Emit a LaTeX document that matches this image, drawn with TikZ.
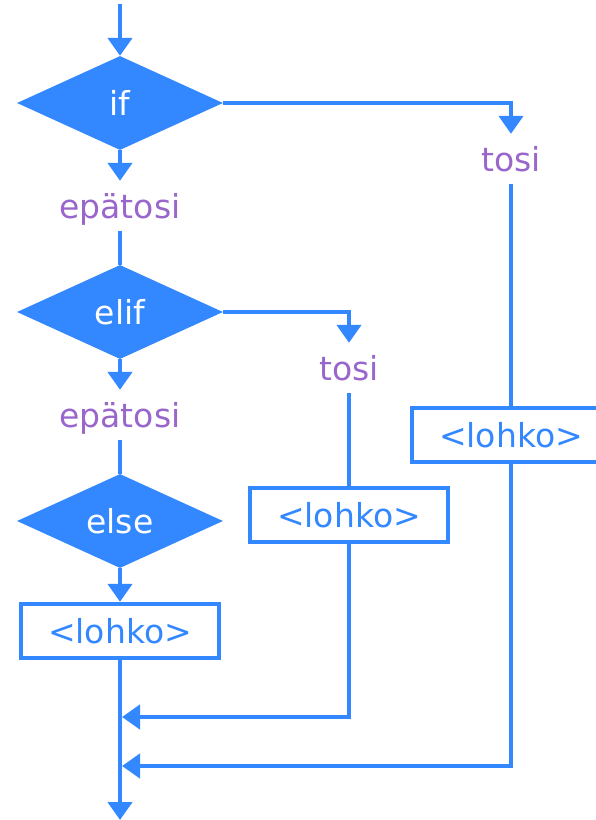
\documentclass[tikz,border=0pt]{standalone}
\usepackage{fontspec}
\setmainfont{DejaVu Sans}
\usepackage{xcolor}
\usepackage{tikz}
\usetikzlibrary{arrows.meta,shapes.geometric}
\definecolor{blueflow}{HTML}{3388FF}
\definecolor{purplelbl}{HTML}{9966CC}
\tikzset{every node/.append style={font=\fontsize{33}{40}\selectfont}}
\tikzset{
  cond/.style={diamond,fill=blueflow,text=white,inner sep=0pt,
    minimum width=206pt,minimum height=94pt},
  blockbox/.style={rectangle,draw=blueflow,line width=4.4pt,fill=white,
    text=blueflow,inner sep=0pt,minimum width=198pt,minimum height=54pt},
  branch/.style={text=purplelbl,inner sep=0pt,text depth=0pt,minimum height=50pt},
  wire/.style={blueflow,line width=4.4pt},
  flow/.style={wire,-{Triangle[length=18pt,width=24pt]}}
}

\begin{document}
\begin{tikzpicture}[x=1pt,y=-1pt]
  \useasboundingbox (0,0) rectangle (595,820);
  \coordinate (start) at (120,4);
  \node[cond] (if) at (120,103) {if};
  \node[branch] (no1) at (120,206) {epätosi};
  \node[cond] (elif) at (120,312) {elif};
  \node[branch] (no2) at (120,415) {epätosi};
  \node[cond] (else) at (120,521) {else};
  \node[blockbox] (blk0) at (120,631) {<lohko>};
  \node[branch] (yes1) at (511,159) {tosi};
  \node[branch] (yes2) at (349,368) {tosi};
  \node[blockbox] (blk1) at (511,435) {<lohko>};
  \node[blockbox] (blk2) at (349,515) {<lohko>};
  \coordinate (join1) at (122,717);
  \coordinate (join2) at (122,766);
  \coordinate (finish) at (120,820);

  % main column
  \draw[flow] (start) -- (if);
  \draw[flow] (if) -- (no1);
  \draw[wire] (no1) -- (elif);
  \draw[flow] (elif) -- (no2);
  \draw[wire] (no2) -- (else);
  \draw[flow] (else) -- (blk0);
  \draw[flow] (blk0) -- (finish);

  % true branches
  \draw[flow] (if.east) -| (yes1);
  \draw[wire] (yes1) -- (blk1);
  \draw[flow] (elif.east) -| (yes2);
  \draw[wire] (yes2) -- (blk2);

  % back to the main column
  \draw[flow] (blk2) |- (join1);
  \draw[flow] (blk1) |- (join2);
\end{tikzpicture}
\end{document}
